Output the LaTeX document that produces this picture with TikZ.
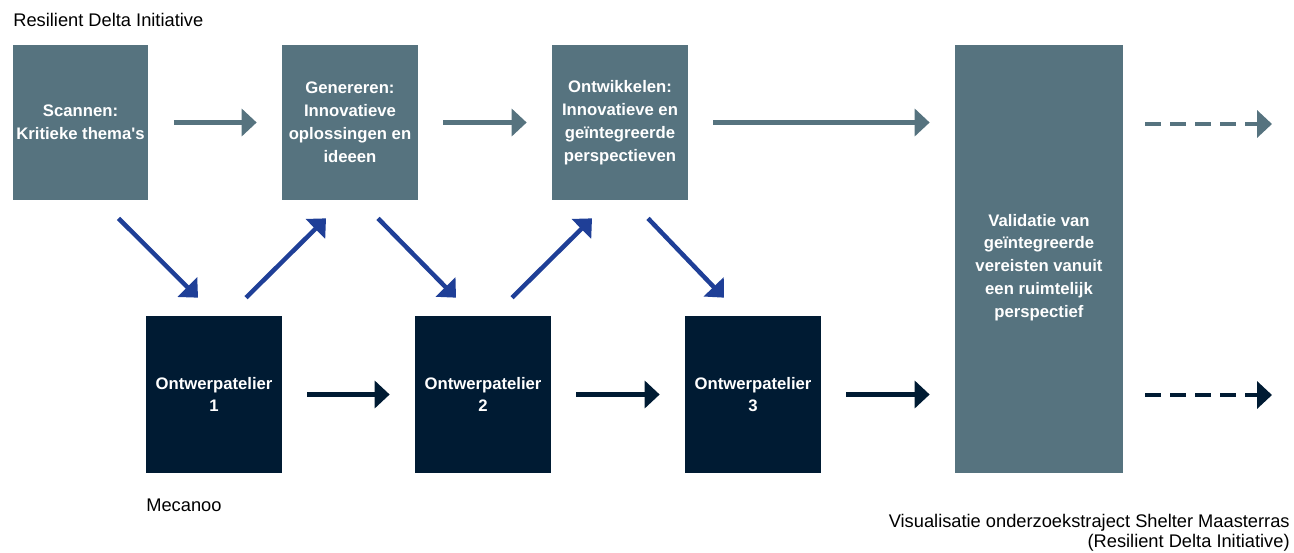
\documentclass[tikz,border=0pt]{standalone}
\usepackage{fontspec}
\setmainfont{Liberation Sans}
\usetikzlibrary{arrows.meta,positioning,calc}
\definecolor{stone}{RGB}{86,115,127}
\definecolor{navy}{RGB}{0,27,51}
\definecolor{royal}{RGB}{31,63,151}

\begin{document}
\begin{tikzpicture}[x=0.02cm,y=-0.02cm,
  fase/.style={rectangle, fill=stone, text=white, align=center, inner sep=0pt,
    font=\fontsize{9.5}{13}\selectfont\bfseries, minimum width=2.72cm, minimum height=3.1cm},
  atelier/.style={fase, fill=navy, minimum height=3.14cm},
  label/.style={font=\fontsize{10.4}{11.5}\selectfont, inner sep=0pt},
  pijl/.style={line width=0.09cm, -{Triangle[length=0.3cm,width=0.54cm]},
    shorten <=0.5cm, shorten >=0.5cm},
  schuin/.style={pijl, royal, shorten <=0cm, shorten >=0cm},
  stip/.style={pijl, dash pattern=on 0.32cm off 0.18cm, shorten <=0.44cm, shorten >=0cm}]
\useasboundingbox (0,0) rectangle (1294,552);

\node[fase] (scan) at (80.5,122.5) {Scannen:\\Kritieke thema\textquotesingle s};
\node[fase] (gen) at (350,122.5) {Genereren:\\Innovatieve\\oplossingen en\\ideeen};
\node[fase] (ont) at (620,122.5) {Ontwikkelen:\\Innovatieve en\\geïntegreerde\\perspectieven};
\node[fase, minimum width=3.36cm, minimum height=8.56cm] (val) at (1039,259)
  {\mbox{}\\[3.4pt]Validatie van\\geïntegreerde\\vereisten vanuit\\een ruimtelijk\\perspectief};

\node[atelier] (at1) at (214,394.5) {Ontwerpatelier\\1};
\node[atelier] (at2) at (483,394.5) {Ontwerpatelier\\2};
\node[atelier] (at3) at (753,394.5) {Ontwerpatelier\\3};

\node[label, anchor=west] (rdi) at (13,20) {Resilient Delta Initiative};
\node[label, anchor=west] (mec) at (146,505) {Mecanoo};
\node[label, anchor=east, align=right] (bron) at (1290,533)
  {Visualisatie onderzoekstraject Shelter Maasterras\\(Resilient Delta Initiative)};

\coordinate (eindA) at (1272,124);
\coordinate (eindB) at (1272,395);

% bovenste rij
\draw[pijl, stone] (scan.east) -- (gen.west);
\draw[pijl, stone] (gen.east) -- (ont.west);
\draw[pijl, stone] (ont.east) -- (ont.east -| val.west);
\draw[stip, stone] (eindA -| val.east) -- (eindA);

% onderste rij
\draw[pijl, navy] (at1.east) -- (at2.west);
\draw[pijl, navy] (at2.east) -- (at3.west);
\draw[pijl, navy] (at3.east) -- (at3.east -| val.west);
\draw[stip, navy] (eindB -| val.east) -- (eindB);

% schuine pijlen
\draw[schuin] ($(scan.south)+(38,18)$) -- ($(at1.north)+(-16,-18)$);
\draw[schuin] ($(at1.north)+(32,-18)$) -- ($(gen.south)+(-24,18)$);
\draw[schuin] ($(gen.south)+(28,18)$) -- ($(at2.north)+(-27,-18)$);
\draw[schuin] ($(at2.north)+(29,-18)$) -- ($(ont.south)+(-28,18)$);
\draw[schuin] ($(ont.south)+(28,18)$) -- ($(at3.north)+(-29,-18)$);
\end{tikzpicture}
\end{document}
